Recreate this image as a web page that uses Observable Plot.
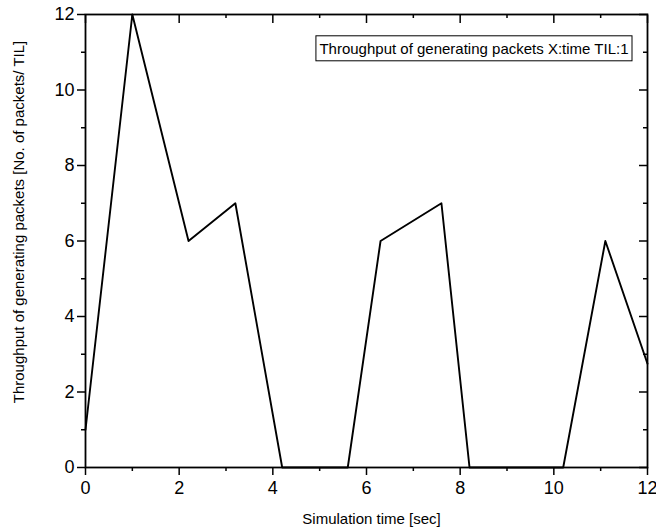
<!DOCTYPE html>
<html>
<head>
<meta charset="utf-8">
<script src="https://cdn.jsdelivr.net/npm/d3@7"></script>
<script src="https://cdn.jsdelivr.net/npm/@observablehq/plot@0.6"></script>
<style>
  html, body { margin: 0; padding: 0; background: #fff; }
  #chart { width: 656px; height: 531px; }
</style>
</head>
<body>
<div id="chart"></div>
<script>
const simTime = [0, 1, 2.2, 3.2, 4.2, 5.6, 6.3, 7.6, 8.2, 10.2, 11.1, 12];
const throughput = [1, 12, 6, 7, 0, 0, 6, 7, 0, 0, 6, 2.75];
const majorTicks = [0, 2, 4, 6, 8, 10, 12];
const minorTicks = [1, 3, 5, 7, 9, 11];
const legendLabel = "Throughput of generating packets X:time TIL:1";
const xLabel = "Simulation time [sec]";
const yLabel = "Throughput of generating packets [No. of packets/ TIL]";

const data = simTime.map((t, i) => ({t, v: throughput[i]}));
const font = "'Liberation Sans', Arial, sans-serif";

const plot = Plot.plot({
  width: 656,
  height: 531,
  marginLeft: 85,
  marginRight: 9,
  marginTop: 14,
  marginBottom: 64,
  style: {fontFamily: font, fontSize: "18px", color: "black", background: "white", overflow: "visible"},
  x: {domain: [0, 12]},
  y: {domain: [0, 12]},
  marks: [
    Plot.axisX({anchor: "bottom", ticks: majorTicks, tickSize: 8, tickPadding: 6, label: null, strokeWidth: 1.5}),
    Plot.axisX({anchor: "bottom", ticks: minorTicks, tickSize: 4, text: null, label: null, strokeWidth: 1.5}),
    Plot.axisX({anchor: "top", ticks: majorTicks, tickSize: -8, text: null, label: null, strokeWidth: 1.5}),
    Plot.axisX({anchor: "top", ticks: minorTicks, tickSize: -3, text: null, label: null, strokeWidth: 1.5}),
    Plot.axisY({anchor: "left", ticks: majorTicks, tickSize: 8, tickPadding: 3, label: null, strokeWidth: 1.5}),
    Plot.axisY({anchor: "left", ticks: minorTicks, tickSize: 4, text: null, label: null, strokeWidth: 1.5}),
    Plot.axisY({anchor: "right", ticks: majorTicks, tickSize: -9, text: null, label: null, strokeWidth: 1.5}),
    Plot.axisY({anchor: "right", ticks: minorTicks, tickSize: -5, text: null, label: null, strokeWidth: 1.5}),
    Plot.line(data, {x: "t", y: "v", stroke: "black", strokeWidth: 1.9}),
    Plot.frame({stroke: "black", strokeWidth: 1.8}),
    Plot.text([legendLabel], {frameAnchor: "top-right", dx: -19, dy: 34.5, text: d => d, fontSize: 15, textAnchor: "end", lineAnchor: "middle", fill: "black", className: "legend-text"}),
    Plot.text([xLabel], {frameAnchor: "bottom", dx: 5, dy: 52, text: d => d, fontSize: 15, textAnchor: "middle", lineAnchor: "middle", fill: "black"}),
    Plot.text([yLabel], {frameAnchor: "left", dx: -66, dy: -19, rotate: -90, text: d => d, fontSize: 15, textAnchor: "middle", lineAnchor: "middle", fill: "black"})
  ]
});

document.getElementById("chart").appendChild(plot);

// draw a box around the legend text
const lt = plot.querySelector(".legend-text text");
if (lt) {
  const bb = lt.getBBox();
  const rect = document.createElementNS("http://www.w3.org/2000/svg", "rect");
  rect.setAttribute("x", bb.x - 3.5);
  rect.setAttribute("y", bb.y + bb.height / 2 - 12.5);
  rect.setAttribute("width", bb.width + 7);
  rect.setAttribute("height", 25);
  rect.setAttribute("fill", "none");
  rect.setAttribute("stroke", "black");
  rect.setAttribute("stroke-width", 1);
  const g = lt.parentNode;
  const tr = g.getAttribute("transform");
  const t2 = lt.getAttribute("transform");
  const wrap = document.createElementNS("http://www.w3.org/2000/svg", "g");
  if (tr) wrap.setAttribute("transform", tr);
  const inner = document.createElementNS("http://www.w3.org/2000/svg", "g");
  if (t2) inner.setAttribute("transform", t2);
  inner.appendChild(rect);
  wrap.appendChild(inner);
  g.parentNode.insertBefore(wrap, g);
}
</script>
</body>
</html>
